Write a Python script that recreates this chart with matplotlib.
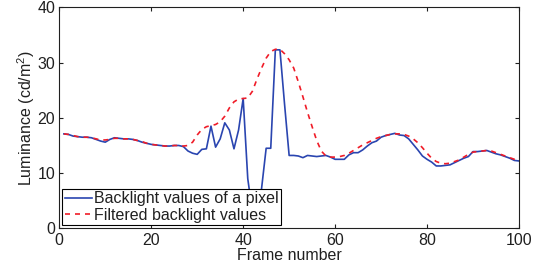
import matplotlib
matplotlib.use('Agg')
import matplotlib.pyplot as plt
import numpy as np

plt.rcParams['font.family'] = ['Liberation Sans', 'DejaVu Sans']
plt.rcParams['mathtext.default'] = 'regular'

# frame numbers 1..100
frames = np.arange(1, 101)

# raw backlight values of one pixel
backlight = [17.1, 17.0, 16.7, 16.6, 16.5, 16.5, 16.4, 16.1, 15.8, 15.6,
             16.1, 16.4, 16.3, 16.2, 16.2, 16.1, 15.9, 15.6, 15.4, 15.2,
             15.1, 15.0, 14.9, 14.9, 15.0, 15.0, 14.8, 14.0, 13.6, 13.4,
             14.3, 14.4, 18.5, 14.7, 16.2, 19.1, 17.8, 14.4, 17.8, 23.5,
             9.0, 3.0, 3.0, 7.2, 14.5, 14.5, 32.3, 32.3, 22.5, 13.2,
             13.2, 13.1, 12.8, 13.2, 13.1, 13.0, 13.1, 13.2, 12.9, 12.5,
             12.5, 12.5, 13.3, 13.7, 13.7, 14.2, 14.9, 15.5, 15.8, 16.5,
             16.8, 17.0, 17.2, 16.9, 16.8, 16.2, 15.2, 14.2, 13.1, 12.5,
             12.0, 11.3, 11.3, 11.4, 11.5, 11.9, 12.3, 12.7, 13.0, 13.9,
             13.9, 14.0, 14.1, 13.8, 13.5, 13.3, 13.0, 12.7, 12.3, 12.2]

# filtered backlight values
filtered = [17.1, 17.0, 16.8, 16.6, 16.5, 16.5, 16.4, 16.2, 16.0, 16.0,
            16.1, 16.3, 16.3, 16.2, 16.2, 16.1, 15.9, 15.7, 15.4, 15.2,
            15.1, 15.0, 14.9, 14.9, 15.0, 15.0, 14.9, 15.0, 15.6, 16.9,
            17.9, 18.4, 18.6, 18.8, 19.3, 20.3, 21.8, 22.9, 23.4, 23.5,
            23.6, 24.8, 27.0, 29.0, 30.8, 32.0, 32.4, 32.4, 31.6, 30.5,
            29.0, 26.5, 23.8, 21.0, 18.4, 15.9, 14.0, 13.1, 12.9, 12.9,
            13.0, 13.2, 13.6, 14.1, 14.6, 15.1, 15.5, 15.9, 16.3, 16.6,
            16.8, 17.0, 17.1, 17.1, 17.0, 16.7, 16.2, 15.5, 14.6, 13.6,
            12.7, 12.1, 11.8, 11.7, 11.8, 12.1, 12.4, 12.9, 13.4, 13.8,
            13.9, 14.0, 14.1, 14.0, 13.7, 13.4, 13.1, 12.8, 12.5, 12.2]

fs = 11.5

fig = plt.figure(figsize=(5.44, 2.7), dpi=100)
ax = fig.add_axes([0.109, 0.154, 0.845, 0.819])

ax.plot(frames, backlight, color='#2a45b0', linewidth=1.2,
        label='Backlight values of a pixel')
ax.plot(frames, filtered, color='#f01c28', linestyle='--', linewidth=1.2,
        dashes=(3, 3), label='Filtered backlight values')

ax.set_xlim(0, 100)
ax.set_ylim(0, 40)
ax.set_xticks([0, 20, 40, 60, 80, 100])
ax.set_yticks([0, 10, 20, 30, 40])
ax.tick_params(direction='in', top=True, right=True, labelsize=fs,
               length=3, colors='#202020')
ax.tick_params(axis='x', pad=3)
ax.tick_params(axis='y', pad=3)
for s in ax.spines.values():
    s.set_linewidth(0.8)
    s.set_color('#202020')

ax.set_xlabel('Frame number', fontsize=fs, labelpad=0, color='#202020')
ax.set_ylabel('Luminance (cd/m$^2$)', fontsize=fs, labelpad=0, color='#202020')

leg = ax.legend(loc='lower left', fontsize=fs, frameon=True, fancybox=False,
                edgecolor='black', framealpha=1, handlelength=1.7,
                handletextpad=0.15, borderpad=0.15, labelspacing=0.1,
                borderaxespad=0.2)
leg.get_frame().set_linewidth(0.8)
for t in leg.get_texts():
    t.set_color('#202020')

fig.savefig('out.png', dpi=100)
